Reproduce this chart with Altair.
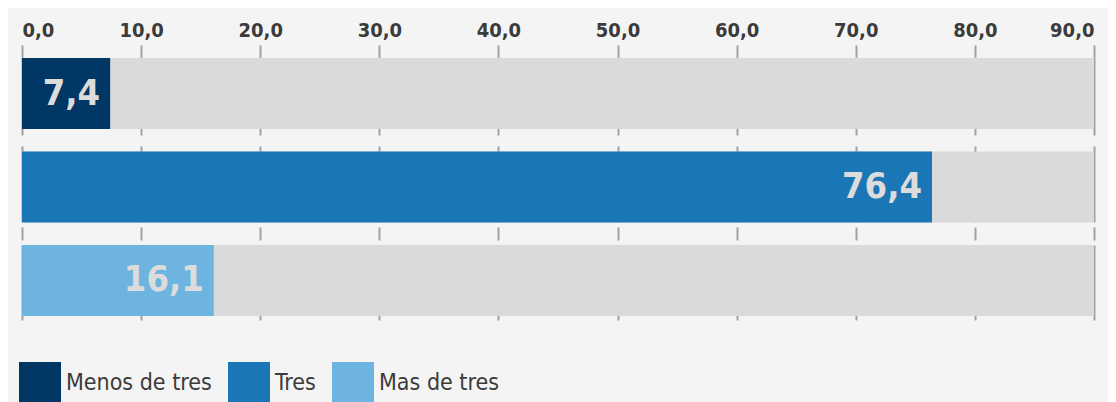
import altair as alt
import pandas as pd

categories = ["Menos de tres", "Tres", "Mas de tres"]
values = [7.4, 76.4, 16.1]
colors = ["#003764", "#1a76b5", "#6db5e0"]
axis_max = 90
tick_values = [0, 10, 20, 30, 40, 50, 60, 70, 80, 90]

df = pd.DataFrame({"cat": categories, "value": values, "total": [axis_max] * 3})

FONT = "DejaVu Sans Condensed, Liberation Sans Narrow, Roboto, sans-serif"

x_scale = alt.Scale(domain=[0, axis_max], nice=False, zero=True)
y_enc = alt.Y("cat:N", sort=categories, axis=None,
              scale=alt.Scale(paddingInner=0.24, paddingOuter=0.027, align=0.2))

base = alt.Chart(df)

bg = base.mark_bar(color="#d9dadc").encode(
    y=y_enc,
    x=alt.X("total:Q", scale=x_scale,
            axis=alt.Axis(orient="top", values=tick_values,
                          labelExpr="replace(format(datum.value, '.1f'), '.', ',')",
                          labelFont=FONT, labelFontSize=20, labelFontWeight="bold",
                          labelColor="#3b3b3b", labelPadding=5,
                          tickColor="#9aa3a9", tickWidth=2, tickSize=12,
                          grid=True, gridColor="#9aa3a9", gridWidth=2,
                          gridDash=[78, 11, 76, 5, 13, 5, 100],
                          domain=False, title=None)),
    x2=alt.value(0),
)

bars = base.mark_bar().encode(
    y=y_enc,
    x=alt.X("value:Q", scale=x_scale),
    color=alt.Color("cat:N", sort=categories,
                    scale=alt.Scale(domain=categories, range=colors),
                    legend=alt.Legend(title=None, orient="none", legendX=-3, legendY=305,
                                      direction="horizontal", symbolType="square",
                                      symbolSize=1764, symbolStrokeWidth=0,
                                      symbolOpacity=1, labelFont=FONT, labelFontSize=23,
                                      labelColor="#3b3b3b", labelOffset=5,
                                      columnPadding=16)),
)

labels = base.transform_calculate(
    lab="replace(format(datum.value, '.1f'), '.', ',')"
).mark_text(align="right", baseline="middle", dx=-10, font=FONT, fontSize=36,
            fontWeight="bold", color="#dcdcdc").encode(
    y=y_enc,
    x=alt.X("value:Q", scale=x_scale),
    text="lab:N",
)

chart = alt.layer(bg, bars, labels).properties(
    width=1072, height=263,
    autosize=alt.AutoSizeParams(type="none"),
    padding={"left": 14, "top": 49, "right": 14, "bottom": 82},
    background="#f4f4f4",
).configure_view(stroke=None)

chart.save("out.html", embed_options={"renderer": "svg", "actions": False})
